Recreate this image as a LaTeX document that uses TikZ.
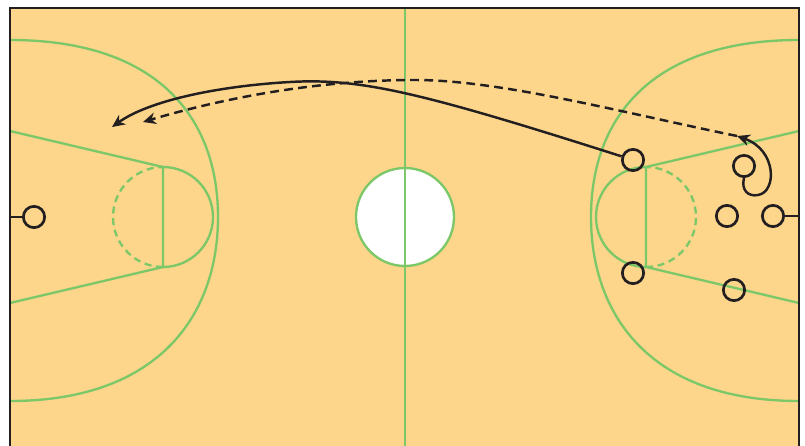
\documentclass[tikz,border=0pt]{standalone}
\usepackage{tikz}
\usetikzlibrary{arrows.meta}
\definecolor{court}{RGB}{253,214,140}
\definecolor{paintline}{RGB}{124,200,104}
\definecolor{ink}{RGB}{35,31,32}

\begin{document}
\begin{tikzpicture}[x=0.03cm, y=-0.03cm, >={Stealth[length=11pt, width=10pt, inset=3.5pt]},
  paint/.style={paintline, line width=2pt},
  player/.style={circle, draw=ink, line width=2.3pt, minimum size=0.64cm, inner sep=0pt},
  move/.style={ink, line width=2.1pt},
  pass/.style={move, dash pattern=on 7.5pt off 4.5pt}]
%
\useasboundingbox (0,0) rectangle (805,446);
\clip (0,0) rectangle (805,446);
%
% court
\fill[court] (10,8) rectangle (799,460);
%
% left half
\draw[paint] (10,40) .. controls (160,40) and (218,120) .. (218,217)
  .. controls (218,314) and (160,401) .. (10,401);
\draw[paint] (10,131) -- (163,167) -- (163,267) -- (10,303);
\draw[paint] (163,267) arc[start angle=90, end angle=-90, radius=50];
\draw[paint, dash pattern=on 6pt off 4pt] (163,267) arc[start angle=90, end angle=270, radius=50];
%
% right half
\draw[paint] (799,40) .. controls (649,40) and (591,120) .. (591,217)
  .. controls (591,314) and (649,401) .. (799,401);
\draw[paint] (799,131) -- (646,167) -- (646,267) -- (799,303);
\draw[paint] (646,267) arc[start angle=90, end angle=270, radius=50];
\draw[paint, dash pattern=on 6pt off 4pt] (646,267) arc[start angle=90, end angle=-90, radius=50];
%
% centre
\node (jump) [circle, paint, fill=white, draw=paintline, minimum size=2.94cm] at (405,217) {};
\draw[paint] (405,8) -- (405,460);
%
% border
\draw[ink, line width=2.4pt] (10,460) -- (10,8) -- (799,8) -- (799,460);
%
% baskets
\coordinate (baseL) at (10,217);
\coordinate (baseR) at (799,216);
\node (hoopL) [player] at (34,217) {};
\node (hoopR) [player] at (773,216) {};
\draw[move] (baseL) -- (hoopL);
\draw[move] (baseR) -- (hoopR);
%
% players
\node (P1) [player] at (633,160) {};
\node (P2) [player] at (633,273) {};
\node (P3) [player] at (727,216) {};
\node (P4) [player] at (734,290) {};
\node (P5) [player] at (744,166) {};
%
\coordinate (cut) at (737,136);
\coordinate (dest1) at (112,127);
\coordinate (dest2) at (143,122);
%
\draw[move, ->] (P1) .. controls (420,92) and (360,78) .. (290,82)
  .. controls (220,86) and (150,100) .. (dest1);
\draw[move, ->] (P5.south) .. controls (741,190) and (748,197) .. (758,195)
  .. controls (777,192) and (777,150) .. (cut);
\draw[pass, ->] (cut) .. controls (620,112) and (500,80) .. (415,80)
  .. controls (300,80) and (200,105) .. (dest2);
\end{tikzpicture}
\end{document}
